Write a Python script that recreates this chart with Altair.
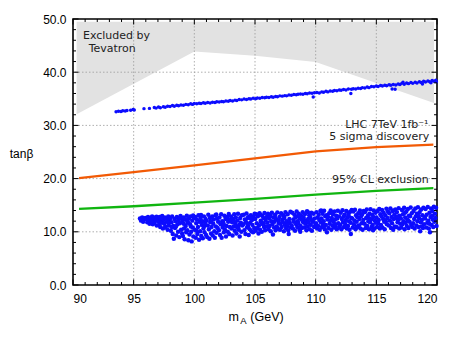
import altair as alt
import pandas as pd

W, H = 364, 266

# axis ticks / grid
x_major = [90, 95, 100, 105, 110, 115, 120]
y_major = [0, 10, 20, 30, 40, 50]
x_grid = [95, 100, 105, 110, 115]
y_grid = [10, 20, 30, 40]
x_minor = [91, 92, 93, 94, 96, 97, 98, 99, 101, 102, 103, 104, 106, 107, 108, 109,
           111, 112, 113, 114, 116, 117, 118, 119]
y_minor = [2, 4, 6, 8, 12, 14, 16, 18, 22, 24, 26, 28, 32, 34, 36, 38, 42, 44, 46, 48]

# Tevatron excluded region
tev_x = [90.3, 100.0, 105.0, 110.0, 119.75]
tev_lo = [32.1, 43.9, 43.1, 41.9, 34.2]
tev_hi = [49.5, 49.5, 49.5, 49.5, 49.5]

# LHC curves
disc_x = [90.5, 95, 100, 105, 110, 115, 119.7]
disc_y = [20.1, 21.2, 22.5, 23.8, 25.1, 25.9, 26.4]
excl_x = [90.5, 95, 100, 105, 110, 115, 119.7]
excl_y = [14.3, 14.8, 15.5, 16.2, 17.0, 17.7, 18.2]

# upper band of scan points
band_pts = [
 (93.55,32.55),(93.75,32.65),(93.95,32.6),(94.1,32.75),(94.3,32.7),(94.45,32.8),(94.75,32.85),
 (94.95,33.0),(95.05,32.9),(95.85,33.15),(96.3,33.2),(96.7,33.35),(96.85,33.25),(97.05,33.45),
 (97.2,33.3),(97.45,33.5),(97.6,33.4),(97.8,33.6),(98.0,33.55),(98.2,33.75),(98.35,33.6),
 (98.55,33.8),(98.7,33.7),(98.9,33.85),(99.1,33.8),(99.3,33.95),(99.5,33.9),(99.7,34.05),
 (99.85,33.95),(100.0,34.1),(100.2,34.05),(100.4,34.15),(100.55,34.1),(100.75,34.25),(100.9,34.15),
 (101.1,34.3),(101.3,34.2),(101.5,34.35),(101.7,34.3),(101.85,34.45),(102.05,34.4),(102.25,34.5),
 (102.4,34.45),(102.6,34.6),(102.8,34.55),(102.95,34.7),(103.15,34.6),(103.35,34.75),(103.5,34.7),
 (103.7,34.85),(103.9,34.8),(104.1,34.95),(104.3,34.85),(104.5,35.0),(104.65,34.95),(104.85,35.1),
 (105.05,35.0),(105.2,35.15),(105.4,35.1),(105.6,35.25),(105.8,35.2),(105.95,35.3),(106.15,35.25),
 (106.35,35.4),(106.5,35.3),(106.7,35.45),(106.85,35.4),(107.05,35.55),(107.25,35.5),(107.45,35.6),
 (107.6,35.55),(107.8,35.7),(108.0,35.65),(108.2,35.8),(108.4,35.75),(108.55,35.85),(108.75,35.9),
 (108.95,35.85),(109.15,36.0),(109.3,35.95),(109.5,36.1),(109.7,36.05),(109.8,35.35),(109.9,36.15),
 (110.1,36.2),(110.3,36.1),(110.5,36.3),(110.65,36.25),(110.85,36.4),(111.0,36.3),(111.2,36.45),
 (111.4,36.4),(111.55,36.55),(111.75,36.5),(111.95,36.65),(112.1,36.6),(112.3,36.75),(112.5,36.65),
 (112.7,36.85),(112.9,36.0),(112.95,36.8),(113.1,36.9),(113.3,36.85),(113.5,37.0),(113.7,36.95),
 (113.85,37.1),(114.05,37.05),(114.25,37.2),(114.4,37.1),(114.6,37.3),(114.8,37.25),(115.0,37.4),
 (115.15,37.3),(115.35,37.5),(115.5,37.4),(115.7,37.55),(115.85,37.45),(116.05,37.65),(116.3,36.85),
 (116.55,36.8),(116.2,37.55),(116.4,37.7),(116.6,37.6),(116.8,37.8),(116.95,37.7),(117.1,37.9),
 (117.3,37.75),(117.5,37.95),(117.65,37.85),(117.85,38.05),(118.0,37.9),(118.2,38.1),(118.35,37.95),
 (118.55,38.2),(118.7,38.05),(118.9,38.3),(119.05,38.15),(119.25,38.35),(119.4,38.2),(119.6,38.45),
 (119.75,38.3),(119.9,38.5),(119.95,38.2),(117.2,38.1),(118.8,37.8),(119.5,38.0),
]

# lower cloud of scan points
cloud_pts = [
 (95.52,12.5),(95.61,12.1),(95.70,12.7),(95.83,12.3),(95.95,12.6),(95.78,11.9),
 (96.05,12.4),(96.12,11.8),(96.18,12.8),(96.25,12.2),(96.31,11.5),(96.38,12.6),(96.44,12.0),(96.52,12.9),
 (96.58,11.4),(96.63,12.3),(96.71,11.7),(96.77,12.7),(96.84,12.1),(96.90,11.2),(96.95,12.5),(96.48,11.9),(96.88,12.85),
 (97.03,12.0),(97.08,11.3),(97.14,12.8),(97.19,10.9),(97.24,12.4),(97.30,11.7),(97.35,12.95),(97.41,10.6),
 (97.46,12.2),(97.52,11.5),(97.57,12.7),(97.63,11.0),(97.68,12.5),(97.74,11.9),(97.80,10.4),(97.85,12.9),
 (97.90,11.2),(97.96,12.3),(97.27,12.6),(97.60,10.8),(97.88,11.7),
 (98.02,12.6),(98.07,10.2),(98.12,11.8),(98.17,12.9),(98.22,9.6),(98.27,11.1),(98.31,8.7),(98.36,12.4),
 (98.41,10.7),(98.46,12.0),(98.51,9.3),(98.56,12.8),(98.61,11.4),(98.66,10.0),(98.71,12.2),(98.76,9.0),
 (98.81,11.6),(98.86,12.95),(98.91,10.4),(98.96,12.5),(98.14,10.9),(98.49,11.0),(98.79,12.6),(98.99,9.7),
 (99.02,11.9),(99.06,9.2),(99.11,12.7),(99.15,10.6),(99.20,8.6),(99.24,12.3),(99.29,11.1),(99.33,9.9),
 (99.38,13.0),(99.42,10.3),(99.47,11.7),(99.51,8.4),(99.56,12.5),(99.60,9.5),(99.65,11.4),(99.69,12.9),
 (99.74,10.0),(99.78,8.2),(99.83,12.1),(99.87,10.8),(99.92,9.1),(99.96,12.6),(99.13,11.5),(99.44,12.0),
 (99.71,11.0),(99.90,13.05),
 (100.03,10.4),(100.07,12.8),(100.12,8.9),(100.16,11.6),(100.21,12.3),(100.25,9.6),(100.30,10.9),(100.34,13.1),
 (100.39,8.5),(100.43,11.9),(100.48,10.1),(100.52,12.6),(100.57,9.2),(100.61,11.3),(100.66,12.0),(100.70,8.8),
 (100.75,10.6),(100.79,12.9),(100.84,9.9),(100.88,11.7),(100.93,12.4),(100.97,9.4),(100.18,10.2),(100.55,13.15),
 (100.82,11.1),
 (101.02,12.1),(101.06,9.0),(101.11,11.2),(101.15,13.2),(101.20,10.5),(101.24,8.7),(101.29,12.6),(101.33,11.8),
 (101.38,9.7),(101.42,10.9),(101.47,12.9),(101.51,9.3),(101.56,11.5),(101.60,12.3),(101.65,10.1),(101.69,8.9),
 (101.74,13.1),(101.78,11.0),(101.83,9.8),(101.87,12.5),(101.92,10.7),(101.96,11.9),(101.36,12.0),(101.81,13.25),
 (102.03,10.3),(102.07,12.7),(102.12,9.4),(102.16,11.4),(102.21,13.3),(102.25,8.9),(102.30,12.0),(102.34,10.8),
 (102.39,11.7),(102.43,9.9),(102.48,13.0),(102.52,10.4),(102.57,12.4),(102.61,9.1),(102.66,11.1),(102.70,12.8),
 (102.75,10.0),(102.79,11.9),(102.84,13.35),(102.88,9.6),(102.93,10.9),(102.97,12.2),(102.45,11.3),(102.72,12.5),
 (103.02,12.9),(103.06,10.6),(103.11,11.8),(103.15,9.3),(103.20,12.4),(103.24,11.0),(103.29,13.3),(103.33,10.2),
 (103.38,11.5),(103.42,12.7),(103.47,9.7),(103.51,10.9),(103.56,12.1),(103.60,13.4),(103.65,10.4),(103.69,11.3),
 (103.74,9.1),(103.78,12.6),(103.83,11.7),(103.87,10.0),(103.92,13.1),(103.96,11.2),(103.27,12.0),(103.63,10.7),
 (104.03,11.4),(104.07,13.2),(104.12,10.3),(104.16,12.3),(104.21,9.6),(104.25,11.9),(104.30,13.45),(104.34,10.8),
 (104.39,12.6),(104.43,11.1),(104.48,9.4),(104.52,12.9),(104.57,10.5),(104.61,11.7),(104.66,13.1),(104.70,10.1),
 (104.75,12.2),(104.79,11.3),(104.84,9.9),(104.88,12.8),(104.93,10.7),(104.97,13.4),(104.37,11.5),(104.64,12.5),
 (105.02,12.4),(105.06,10.2),(105.11,13.3),(105.15,11.6),(105.20,10.7),(105.24,12.9),(105.29,9.7),(105.33,11.2),
 (105.38,13.5),(105.42,10.4),(105.47,12.1),(105.51,11.8),(105.56,10.0),(105.60,13.0),(105.65,11.4),(105.69,12.6),
 (105.74,10.9),(105.78,13.55),(105.83,10.3),(105.87,12.2),(105.92,11.0),(105.96,12.8),(105.45,13.2),(105.72,11.6),
 (106.03,11.7),(106.07,13.4),(106.12,10.5),(106.16,12.5),(106.21,11.1),(106.25,13.0),(106.30,10.1),(106.34,12.0),
 (106.39,13.6),(106.43,11.4),(106.48,9.5),(106.52,12.7),(106.57,10.8),(106.61,11.9),(106.66,13.2),(106.70,10.3),
 (106.75,12.3),(106.79,11.0),(106.84,13.65),(106.88,10.6),(106.93,12.1),(106.97,11.6),(106.27,12.9),(106.68,12.6),
 (107.02,12.8),(107.06,10.4),(107.11,11.5),(107.15,13.5),(107.20,10.9),(107.24,12.2),(107.29,11.8),(107.33,13.1),
 (107.38,10.1),(107.42,12.6),(107.47,11.3),(107.51,13.7),(107.56,10.7),(107.60,12.0),(107.65,11.0),(107.69,13.3),
 (107.74,10.3),(107.78,9.6),(107.83,12.4),(107.87,11.7),(107.92,13.75),(107.96,10.8),(107.40,12.9),(107.71,11.4),
 (108.03,11.2),(108.07,13.6),(108.12,10.6),(108.16,12.3),(108.21,11.9),(108.25,13.2),(108.30,10.2),(108.34,12.7),
 (108.39,11.4),(108.43,13.8),(108.48,10.9),(108.52,12.0),(108.57,11.6),(108.61,13.4),(108.66,10.4),(108.70,12.5),
 (108.75,11.1),(108.79,13.0),(108.84,10.7),(108.88,12.2),(108.93,13.7),(108.97,11.8),(108.45,12.9),(108.73,10.0),
 (109.02,12.6),(109.06,10.8),(109.11,13.3),(109.15,11.5),(109.20,12.1),(109.24,10.3),(109.29,13.85),(109.33,11.0),
 (109.38,12.4),(109.42,11.7),(109.47,13.1),(109.51,10.5),(109.56,12.8),(109.60,11.3),(109.65,13.6),(109.69,10.2),
 (109.74,12.0),(109.78,11.9),(109.83,13.4),(109.87,10.9),(109.92,12.5),(109.96,11.2),(109.36,13.7),(109.62,12.3),
 (110.03,11.6),(110.07,13.7),(110.12,10.6),(110.16,12.7),(110.21,11.1),(110.25,13.2),(110.30,12.2),(110.34,10.4),
 (110.39,13.9),(110.43,11.8),(110.48,12.5),(110.52,10.9),(110.57,13.4),(110.61,11.4),(110.66,12.0),(110.70,13.95),
 (110.75,10.5),(110.79,12.9),(110.84,11.3),(110.88,13.1),(110.93,9.9),(110.97,12.3),(110.45,14.0),(110.68,11.0),
 (111.02,12.8),(111.06,10.7),(111.11,13.5),(111.15,11.5),(111.20,12.1),(111.24,14.0),(111.29,10.4),(111.33,12.6),
 (111.38,11.2),(111.42,13.3),(111.47,11.9),(111.51,10.8),(111.56,13.8),(111.60,12.3),(111.65,11.0),(111.69,13.0),
 (111.74,10.5),(111.78,12.5),(111.83,13.95),(111.87,11.6),(111.92,12.9),(111.96,10.9),(111.35,13.7),(111.62,11.4),
 (112.03,11.3),(112.07,13.6),(112.12,10.5),(112.16,12.4),(112.21,14.05),(112.25,11.8),(112.30,12.9),(112.34,10.9),
 (112.39,13.2),(112.43,11.5),(112.48,12.2),(112.52,13.9),(112.57,10.6),(112.61,12.7),(112.66,11.1),(112.70,13.4),
 (112.75,12.0),(112.79,10.4),(112.84,13.75),(112.88,11.7),(112.93,12.6),(112.97,14.1),(112.45,11.0),(112.72,13.0),
 (112.90,9.6),
 (113.02,12.5),(113.06,10.8),(113.11,13.8),(113.15,11.4),(113.20,12.1),(113.24,14.15),(113.29,10.5),(113.33,13.1),
 (113.38,11.9),(113.42,12.8),(113.47,10.9),(113.51,13.5),(113.56,11.2),(113.60,12.4),(113.65,14.0),(113.69,10.6),
 (113.74,12.9),(113.78,11.6),(113.83,13.3),(113.87,10.4),(113.92,12.2),(113.96,13.9),(113.36,11.0),(113.62,13.6),
 (114.03,11.5),(114.07,13.7),(114.12,10.7),(114.16,12.6),(114.21,14.2),(114.25,11.1),(114.30,13.0),(114.34,12.0),
 (114.39,10.5),(114.43,13.4),(114.48,11.8),(114.52,14.25),(114.57,12.3),(114.61,10.9),(114.66,13.2),(114.70,11.3),
 (114.75,12.8),(114.79,14.0),(114.84,10.6),(114.88,12.1),(114.93,13.6),(114.97,11.7),(114.45,12.5),(114.73,10.3),
 (115.02,12.7),(115.06,10.9),(115.11,13.9),(115.15,11.6),(115.20,12.2),(115.24,14.3),(115.29,10.6),(115.33,13.3),
 (115.38,11.3),(115.42,12.9),(115.47,14.1),(115.51,10.8),(115.56,12.4),(115.60,13.6),(115.65,11.9),(115.69,10.5),
 (115.74,13.1),(115.78,12.0),(115.83,14.35),(115.87,11.4),(115.92,12.6),(115.96,13.8),(115.36,11.0),(115.63,12.3),
 (116.03,11.2),(116.07,13.5),(116.12,12.1),(116.16,14.4),(116.21,10.7),(116.25,12.8),(116.30,11.6),(116.34,13.9),
 (116.39,10.4),(116.43,12.4),(116.48,13.2),(116.52,11.0),(116.57,14.2),(116.61,12.6),(116.66,10.9),(116.70,13.7),
 (116.75,11.8),(116.79,12.2),(116.84,14.45),(116.88,10.6),(116.93,13.0),(116.97,11.5),(116.45,14.0),(116.72,12.9),
 (117.02,12.5),(117.06,10.8),(117.11,14.1),(117.15,11.4),(117.20,13.3),(117.24,12.0),(117.29,14.5),(117.33,10.5),
 (117.38,12.7),(117.42,11.7),(117.47,13.8),(117.51,11.1),(117.56,12.3),(117.60,14.3),(117.65,10.7),(117.69,13.0),
 (117.74,11.9),(117.78,12.9),(117.83,14.55),(117.87,11.3),(117.92,13.5),(117.96,10.9),(117.36,13.6),(117.62,12.1),
 (118.03,11.6),(118.07,13.9),(118.12,12.4),(118.16,10.6),(118.21,14.4),(118.25,12.9),(118.30,11.2),(118.34,13.4),
 (118.39,12.0),(118.43,14.6),(118.48,10.9),(118.52,12.6),(118.57,13.7),(118.61,10.1),(118.66,11.8),(118.70,14.2),
 (118.75,12.2),(118.79,13.1),(118.84,10.7),(118.88,14.5),(118.93,11.4),(118.97,12.8),(118.45,13.0),(118.72,11.0),
 (119.02,12.5),(119.06,14.3),(119.11,10.8),(119.15,13.2),(119.20,11.7),(119.24,14.65),(119.29,12.1),(119.33,10.6),
 (119.38,13.6),(119.42,9.9),(119.47,12.8),(119.51,14.4),(119.56,11.3),(119.60,13.0),(119.65,12.3),(119.69,10.9),
 (119.74,14.7),(119.78,11.9),(119.83,13.4),(119.87,12.6),(119.92,14.5),(119.96,11.1),(119.36,11.5),(119.62,13.9),
]

# annotations (data coordinates)
ann_left_text = ["Excluded by", "Tevatron"]
ann_left_x = [90.82, 91.29]
ann_left_y = [46.2, 43.75]
ann_right_text = ["LHC 7TeV 1fb\u207b\u00b9", "5 sigma discovery", "95% CL exclusion"]
ann_right_x = [119.3, 119.37, 119.32]
ann_right_y = [29.5, 27.2, 19.1]

LABEL_FONT = "Liberation Sans"
ANN_FONT = "DejaVu Sans"

xs = alt.Scale(domain=[90, 120], nice=False, zero=False)
ys = alt.Scale(domain=[0, 50], nice=False, zero=False)
x_axis = alt.Axis(values=x_major, format="d", title=None, grid=False, domain=False,
                  ticks=False, tickSize=0, labelPadding=8, labelFontSize=12,
                  labelFont=LABEL_FONT, labelColor="black")
y_axis = alt.Axis(values=y_major, format=".1f", title="tan\u03b2", grid=False, domain=False,
                  ticks=False, tickSize=0, labelPadding=7, labelFontSize=12,
                  labelFont=LABEL_FONT, labelColor="black",
                  titleAngle=0, titleX=-52, titleY=134, titleAlign="center",
                  titleBaseline="middle", titleFont=LABEL_FONT, titleFontSize=12,
                  titleFontWeight="normal", titleColor="black")

X = alt.X("x:Q", scale=xs, axis=x_axis)
Y = alt.Y("y:Q", scale=ys, axis=y_axis)

tev_df = pd.DataFrame({"x": tev_x, "y": tev_lo, "y2": tev_hi})
gray = alt.Chart(tev_df).mark_area(color="#e2e2e2").encode(x=X, y=Y, y2="y2:Q")

gx = alt.Chart(pd.DataFrame({"x": x_grid})).mark_rule(
    color="#9a9a9a", strokeWidth=0.8, strokeDash=[1.5, 2]).encode(x=X)
gy = alt.Chart(pd.DataFrame({"y": y_grid})).mark_rule(
    color="#9a9a9a", strokeWidth=0.8, strokeDash=[1.5, 2]).encode(y=Y)

disc = alt.Chart(pd.DataFrame({"x": disc_x, "y": disc_y})).mark_line(
    color="#f25a05", strokeWidth=2.3).encode(x=X, y=Y)
excl = alt.Chart(pd.DataFrame({"x": excl_x, "y": excl_y})).mark_line(
    color="#10b510", strokeWidth=2.3).encode(x=X, y=Y)

band_df = pd.DataFrame(band_pts, columns=["x", "y"])
cloud_df = pd.DataFrame(cloud_pts, columns=["x", "y"])
band = alt.Chart(band_df).mark_circle(color="#0c0cff", size=12, opacity=1).encode(x=X, y=Y)
cloud = alt.Chart(cloud_df).mark_circle(color="#0c0cff", size=20, opacity=1).encode(x=X, y=Y)

ann_l = alt.Chart(pd.DataFrame({"x": ann_left_x, "y": ann_left_y, "t": ann_left_text})).mark_text(
    align="left", baseline="alphabetic", font=ANN_FONT, fontSize=11, color="#222222"
).encode(x=X, y=Y, text="t:N")
ann_r = alt.Chart(pd.DataFrame({"x": ann_right_x, "y": ann_right_y, "t": ann_right_text})).mark_text(
    align="right", baseline="alphabetic", font=ANN_FONT, fontSize=11, color="#222222"
).encode(x=X, y=Y, text="t:N")

# x-axis title m_A (GeV) with subscript
xt_df = pd.DataFrame({"t": ["m"]})
xt_m = alt.Chart(xt_df).mark_text(align="left", baseline="alphabetic", font=LABEL_FONT,
                                  fontSize=12.5, color="black").encode(
    x=alt.value(155.6), y=alt.value(301.7), text=alt.value("m"))
xt_a = alt.Chart(xt_df).mark_text(align="left", baseline="alphabetic", font=LABEL_FONT,
                                  fontSize=9.5, color="black").encode(
    x=alt.value(167.2), y=alt.value(304.5), text=alt.value("A"))
xt_g = alt.Chart(xt_df).mark_text(align="left", baseline="alphabetic", font=LABEL_FONT,
                                  fontSize=12.5, color="black").encode(
    x=alt.value(177.3), y=alt.value(301.7), text=alt.value("(GeV)"))

# inward ticks on all four sides
def xticks(vals, length):
    d = pd.DataFrame({"x": vals})
    b = alt.Chart(d).mark_rule(color="black", strokeWidth=1).encode(
        x=X, y=alt.value(H), y2=alt.value(H - length))
    t = alt.Chart(d).mark_rule(color="black", strokeWidth=1).encode(
        x=X, y=alt.value(0), y2=alt.value(length))
    return [b, t]

def yticks(vals, length):
    d = pd.DataFrame({"y": vals})
    l = alt.Chart(d).mark_rule(color="black", strokeWidth=1).encode(
        y=Y, x=alt.value(0), x2=alt.value(length))
    r = alt.Chart(d).mark_rule(color="black", strokeWidth=1).encode(
        y=Y, x=alt.value(W), x2=alt.value(W - length))
    return [l, r]

tick_layers = xticks(x_major, 5.5) + xticks(x_minor, 3) + yticks(y_major, 5.5) + yticks(y_minor, 3)

chart = alt.layer(
    gray, gx, gy, disc, excl, band, cloud, ann_l, ann_r, xt_m, xt_a, xt_g, *tick_layers
).properties(
    width=W, height=H,
    autosize=alt.AutoSizeParams(type="none"),
    padding={"left": 65, "top": 11, "right": 12, "bottom": 44},
    background="white",
).configure_view(stroke="black", strokeWidth=1.6)

chart.save("out.html", embed_options={"renderer": "svg", "actions": False})
